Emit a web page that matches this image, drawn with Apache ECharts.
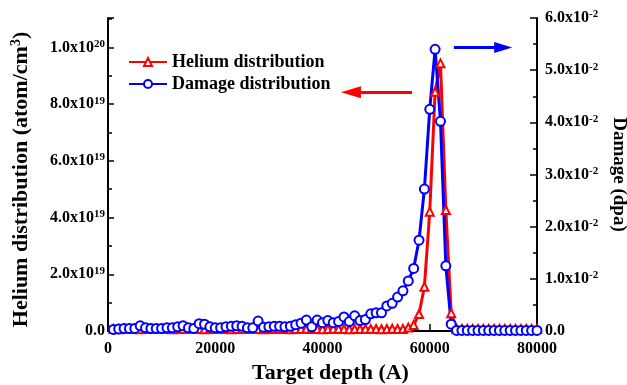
<!DOCTYPE html>
<html><head><meta charset="utf-8">
<script src="https://cdn.jsdelivr.net/npm/echarts@6/dist/echarts.min.js"></script>
<style>html,body{margin:0;padding:0;background:#fff}#c{width:627px;height:385px}</style>
</head><body><div id="c"></div>
<script>
// Target depth (Angstrom)
const depth = [
 1000,2000,3000,4000,5000,6000,7000,8000,9000,10000,
 11000,12000,13000,14000,15000,16000,17000,18000,19000,20000,
 21000,22000,23000,24000,25000,26000,27000,28000,29000,30000,
 31000,32000,33000,34000,35000,36000,37000,38000,39000,40000,
 41000,42000,43000,44000,45000,46000,47000,48000,49000,50000,
 51000,52000,53000,54000,55000,56000,57000,58000,59000,60000,
 61000,62000,63000,64000,65000,66000,67000,68000,69000,70000,
 71000,72000,73000,74000,75000,76000,77000,78000,79000,80000];
// Helium distribution (atom/cm^3)
const helium = [
 0.7e18,0.6e18,0.7e18,0.8e18,0.7e18,0.6e18,0.7e18,0.7e18,0.8e18,0.7e18,
 0.7e18,0.6e18,0.7e18,0.7e18,0.8e18,0.7e18,0.7e18,0.6e18,0.7e18,0.8e18,
 0.7e18,0.7e18,0.6e18,0.7e18,0.7e18,0.8e18,0.7e18,0.7e18,0.6e18,0.7e18,
 0.8e18,0.7e18,0.7e18,0.6e18,0.7e18,0.7e18,0.8e18,0.7e18,0.7e18,0.6e18,
 0.7e18,0.8e18,0.7e18,0.7e18,0.6e18,0.7e18,0.7e18,0.8e18,0.7e18,0.7e18,
 0.6e18,0.7e18,0.8e18,0.7e18,0.7e18,1.2e18,2.1e18,6.0e18,1.56e19,4.21e19,
 8.44e19,9.44e19,4.27e19,6.3e18,0.7e18,0.7e18,0.7e18,0.7e18,0.7e18,0.7e18,
 0.7e18,0.7e18,0.7e18,0.7e18,0.7e18,0.7e18,0.7e18,0.7e18,0.7e18,0.7e18];
// Damage (dpa)
const damage = [
 0.0003,0.0004,0.0005,0.0005,0.0005,0.0010,0.0006,0.0005,0.0005,0.0005,
 0.0006,0.0006,0.0008,0.0010,0.0006,0.0005,0.0014,0.0013,0.0008,0.0006,
 0.0006,0.0008,0.0009,0.0010,0.0009,0.0006,0.0006,0.0019,0.0007,0.0008,
 0.0009,0.0009,0.0008,0.0009,0.0012,0.0015,0.0021,0.0008,0.0021,0.0016,
 0.0020,0.0016,0.0018,0.0027,0.0018,0.0029,0.0020,0.0022,0.0033,0.0035,
 0.0035,0.0048,0.0053,0.0065,0.0077,0.0096,0.0120,0.0174,0.0272,0.0425,
 0.0540,0.0402,0.0125,0.0013,0.0001,0.0001,0.0001,0.0001,0.0001,0.0001,
 0.0001,0.0001,0.0001,0.0001,0.0001,0.0001,0.0001,0.0001,0.0001,0.0001];
const seriesNames = ['Helium distribution', 'Damage distribution'];
// arrows: [x start, x end, y] in data units
const heliumArrow = [56700, 45300, 8.42e19];
const damageArrow = [64500, 73700, 0.05435];

const FONT = '"Liberation Serif", "Times New Roman", serif';
function sci(v) {
  if (v === 0) return '{b|0.0}';
  const e = Math.floor(Math.log10(v) + 1e-9);
  const m = v / Math.pow(10, e);
  return '{b|' + m.toFixed(1) + 'x10}{sup|' + e + '}';
}
const labelRich = {
  b: {fontSize: 16, lineHeight: 16, fontWeight: 'bold', fontFamily: FONT, color: '#000', verticalAlign: 'bottom'},
  sup: {fontSize: 11, lineHeight: 11, fontWeight: 'bold', fontFamily: FONT, color: '#000', verticalAlign: 'bottom', padding: [0, 0, 6, 0]}
};
const axisLine = {show: true, onZero: false, lineStyle: {color: '#000', width: 2}};
const tick = {show: true, inside: true, length: 7, lineStyle: {color: '#000', width: 1.5}};
const minor = {show: true, splitNumber: 2, length: 4, lineStyle: {color: '#000', width: 1.5}};
const lbl = {color: '#000', fontFamily: FONT, fontWeight: 'bold', fontSize: 16};

const chart = echarts.init(document.getElementById('c'), null, {renderer: 'canvas'});
chart.setOption({
  animation: false,
  backgroundColor: '#fff',
  grid: {left: 108, right: 90, top: 18, bottom: 54, containLabel: false, outerBoundsMode: 'none'},
  legend: {
    data: seriesNames, orient: 'vertical', left: 128, top: 53, padding: 0,
    itemWidth: 38, itemHeight: 10, itemGap: 4,
    textStyle: {fontFamily: FONT, fontSize: 18, fontWeight: 'bold', color: '#000'}
  },
  xAxis: {
    type: 'value', min: 0, max: 80000, interval: 20000,
    axisLine: axisLine, axisTick: tick, minorTick: minor, splitLine: {show: false},
    axisLabel: Object.assign({margin: 10, formatter: v => String(v)}, lbl),
    name: 'Target depth (A)', nameLocation: 'middle', nameGap: 29,
    nameTextStyle: {fontFamily: FONT, fontSize: 22, fontWeight: 'bold', color: '#000', padding: [0, 0, 0, 16]}
  },
  yAxis: [{
    type: 'value', position: 'left', min: 0, max: 1.104e20, interval: 2e19,
    axisLine: axisLine, axisTick: Object.assign({}, tick, {length: 6}), minorTick: minor, splitLine: {show: false},
    axisLabel: Object.assign({margin: 3, showMaxLabel: false, formatter: sci, rich: labelRich}, lbl),
    name: '{b|Helium distribution (atom/cm}{sup|3}{b|)}', nameLocation: 'middle', nameGap: 76,
    nameTextStyle: {fontFamily: FONT, fontSize: 22, fontWeight: 'bold', color: '#000', padding: [0, 10, 0, 0],
      rich: {
        b: {fontSize: 22, lineHeight: 22, fontWeight: 'bold', fontFamily: FONT, color: '#000', verticalAlign: 'bottom'},
        sup: {fontSize: 14, lineHeight: 14, fontWeight: 'bold', fontFamily: FONT, color: '#000', verticalAlign: 'bottom', padding: [0, 0, 9, 0]}
      }}
  }, {
    type: 'value', position: 'right', min: 0, max: 0.06, interval: 0.01,
    axisLine: axisLine, axisTick: tick, minorTick: minor, splitLine: {show: false},
    axisLabel: Object.assign({margin: 8, formatter: sci, rich: labelRich}, lbl),
    name: 'Damage (dpa)', nameLocation: 'middle', nameGap: 71, nameRotate: -90,
    nameTextStyle: {fontFamily: FONT, fontSize: 19, fontWeight: 'bold', color: '#000'}
  }],
  series: [{
    name: seriesNames[0], type: 'line', yAxisIndex: 0,
    data: depth.map((d, i) => [d, helium[i]]),
    symbol: 'emptyTriangle', symbolSize: 8,
    lineStyle: {color: '#ff0000', width: 3},
    itemStyle: {color: '#ff0000', borderWidth: 2},
    markLine: {
      silent: true, symbol: ['none', 'triangle'], symbolSize: [12, 20],
      label: {show: false}, lineStyle: {color: '#ff0000', width: 3, type: 'solid'},
      data: [[{coord: [heliumArrow[0], heliumArrow[2]]}, {coord: [heliumArrow[1], heliumArrow[2]]}]]
    }
  }, {
    name: seriesNames[1], type: 'line', yAxisIndex: 1,
    data: depth.map((d, i) => [d, damage[i]]),
    symbol: 'emptyCircle', symbolSize: 9,
    lineStyle: {color: '#0000ff', width: 3},
    itemStyle: {color: '#0000ff', borderWidth: 2},
    markLine: {
      silent: true, symbol: ['none', 'triangle'], symbolSize: [11, 18],
      label: {show: false}, lineStyle: {color: '#0000ff', width: 3, type: 'solid'},
      data: [[{coord: [damageArrow[0], damageArrow[2]]}, {coord: [damageArrow[1], damageArrow[2]]}]]
    }
  }]
});
</script></body></html>
